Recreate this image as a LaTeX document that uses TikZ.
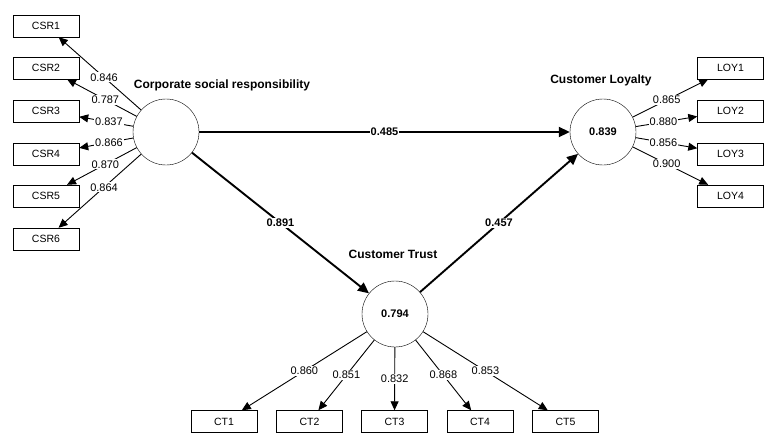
\documentclass[tikz,border=0pt]{standalone}
\usepackage{fontspec}
\setmainfont{Liberation Sans}
\usepackage{tikz}
\usetikzlibrary{arrows.meta}
\usetikzlibrary{positioning}

\begin{document}
\begin{tikzpicture}[x=1pt,y=-1pt,
	latent/.style={draw,circle,minimum size=66pt,inner sep=0pt,font=\fontsize{11}{13}\selectfont\bfseries},
	item/.style={draw,rectangle,minimum width=66pt,minimum height=22pt,inner sep=0pt,font=\fontsize{10.5}{12}\selectfont},
	title/.style={font=\fontsize{12}{14}\selectfont\bfseries},
	load/.style={line width=0.9pt,-{Triangle[length=9pt,width=8pt]}},
	path/.style={line width=1.9pt,-{Triangle[length=11pt,width=10pt]}},
	coef/.style={fill=white,inner sep=1pt,font=\fontsize{11}{13}\selectfont},
	pcoef/.style={fill=white,inner sep=1pt,font=\fontsize{11}{13}\selectfont\bfseries}]
	
	\useasboundingbox (0,0) rectangle (782,444);
	
	% latent variables
	\node [latent] (CSR) at (166,132) {};
	\node [latent] (LOY) at (603,132) {0.839};
	\node [latent] (CT) at (395,314) {0.794};
	
	\node [title] at (222,85) {Corporate social responsibility};
	\node [title] at (601,80) {Customer Loyalty};
	\node [title] at (393,254) {Customer Trust};
	
	% indicators
	\node [item] (CSR1) at (46,26) {CSR1};
	\node [item] (CSR2) at (46,68) {CSR2};
	\node [item] (CSR3) at (46,111) {CSR3};
	\node [item] (CSR4) at (46,154) {CSR4};
	\node [item] (CSR5) at (46,196) {CSR5};
	\node [item] (CSR6) at (46,239) {CSR6};
	
	\node [item] (LOY1) at (730.5,68) {LOY1};
	\node [item] (LOY2) at (730.5,111) {LOY2};
	\node [item] (LOY3) at (730.5,154) {LOY3};
	\node [item] (LOY4) at (730.5,196) {LOY4};
	
	\node [item] (CT1) at (224,421.5) {CT1};
	\node [item] (CT2) at (309.5,421.5) {CT2};
	\node [item] (CT3) at (394.5,421.5) {CT3};
	\node [item] (CT4) at (480,421.5) {CT4};
	\node [item] (CT5) at (565.5,421.5) {CT5};
	
	% outer loadings
	\draw [load] (CSR) -- node[coef,pos=.45]{0.846} (CSR1);
	\draw [load] (CSR) -- node[coef,pos=.45]{0.787} (CSR2);
	\draw [load] (CSR) -- node[coef,pos=.45]{0.837} (CSR3);
	\draw [load] (CSR) -- node[coef,pos=.45]{0.866} (CSR4);
	\draw [load] (CSR) -- node[coef,pos=.45]{0.870} (CSR5);
	\draw [load] (CSR) -- node[coef,pos=.45]{0.864} (CSR6);
	
	\draw [load] (LOY) -- node[coef,pos=.45]{0.865} (LOY1);
	\draw [load] (LOY) -- node[coef,pos=.45]{0.880} (LOY2);
	\draw [load] (LOY) -- node[coef,pos=.45]{0.856} (LOY3);
	\draw [load] (LOY) -- node[coef,pos=.45]{0.900} (LOY4);
	
	\draw [load] (CT) -- node[coef]{0.860} (CT1);
	\draw [load] (CT) -- node[coef]{0.851} (CT2);
	\draw [load] (CT) -- node[coef]{0.832} (CT3);
	\draw [load] (CT) -- node[coef]{0.868} (CT4);
	\draw [load] (CT) -- node[coef]{0.853} (CT5);
	
	% structural paths
	\draw [path] (CSR) -- node[pcoef]{0.485} (LOY);
	\draw [path] (CSR) -- node[pcoef]{0.891} (CT);
	\draw [path] (CT) -- node[pcoef]{0.457} (LOY);
	
\end{tikzpicture}
\end{document}
